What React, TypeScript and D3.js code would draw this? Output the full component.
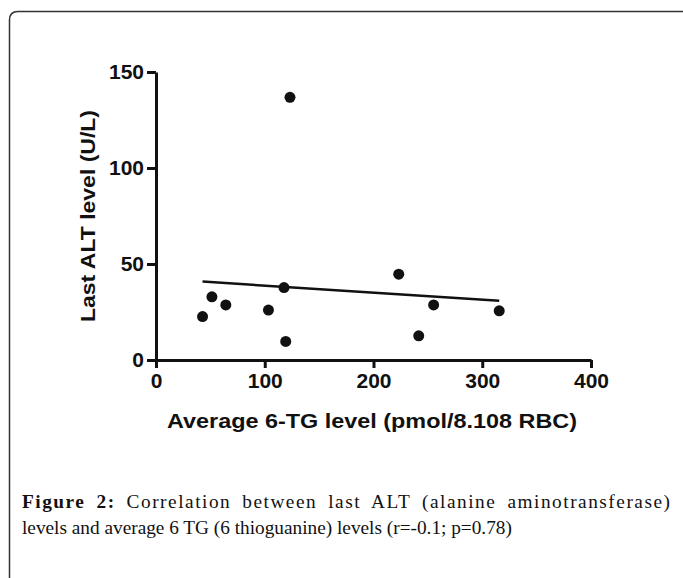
import { useEffect, useRef } from "react";
import * as d3 from "d3";

// Average 6-TG level (pmol/8x10^8 RBC) vs last ALT (U/L), one entry per patient
const tgLevel = [42.8, 51.4, 64.2, 103.4, 117.7, 119.3, 123.2, 223.2, 241.6, 255.3, 315.6];
const altLevel = [22.6, 32.9, 28.7, 26.0, 37.7, 9.7, 136.8, 44.7, 12.6, 28.7, 25.6];

const xTicks = [0, 100, 200, 300, 400];
const yTicks = [0, 50, 100, 150];

const xTitle = "Average 6-TG level (pmol/8.108 RBC)";
const yTitle = "Last ALT level (U/L)";
const captionBold = "Figure 2:";
const captionRest = " Correlation between last ALT (alanine aminotransferase)";
const captionLine2 = "levels and average 6 TG (6 thioguanine) levels (r=-0.1; p=0.78)";

const W = 683;
const H = 578;
const SANS = "'Liberation Sans', Arial, Helvetica, sans-serif";
const SERIF = "'Liberation Serif', 'Times New Roman', serif";
const INK = "#111";

export default function App() {
    const svgRef = useRef<SVGSVGElement | null>(null);

    useEffect(() => {
        if (!svgRef.current) return;
        const svg = d3.select(svgRef.current);
        svg.selectAll("*").remove();

        // frame round the figure (bottom and right run off the page)
        svg.append("path")
            .attr("d", "M9.5,600 V20 Q9.5,11.5 18,11.5 H700")
            .attr("fill", "none")
            .attr("stroke", "#333")
            .attr("stroke-width", 1.5);

        const x = d3.scaleLinear().domain([0, 400]).range([156, 591]);
        const y = d3.scaleLinear().domain([0, 150]).range([360, 72]);

        const styleAxis = (g: d3.Selection<SVGGElement, unknown, null, undefined>) => {
            g.attr("font-family", SANS).attr("font-size", 21).attr("font-weight", "bold");
            g.select(".domain").attr("stroke", INK).attr("stroke-width", 3);
            g.selectAll(".tick line").attr("stroke", INK).attr("stroke-width", 3);
            g.selectAll(".tick text").attr("fill", INK);
        };

        svg.append("g")
            .attr("transform", `translate(0,${y(0)})`)
            .call(d3.axisBottom(x).tickValues(xTicks).tickSize(8).tickSizeOuter(0).tickPadding(5).tickFormat(d3.format("d")))
            .call(styleAxis);

        svg.append("g")
            .attr("transform", `translate(${x(0)},0)`)
            .call(d3.axisLeft(y).tickValues(yTicks).tickSize(9).tickSizeOuter(0).tickPadding(3).tickFormat(d3.format("d")))
            .call(styleAxis);

        // axis titles
        svg.append("text")
            .attr("x", 167)
            .attr("y", 428)
            .attr("font-family", SANS)
            .attr("font-size", 20)
            .attr("font-weight", "bold")
            .attr("fill", INK)
            .attr("textLength", 410)
            .attr("lengthAdjust", "spacingAndGlyphs")
            .text(xTitle);

        svg.append("text")
            .attr("transform", "translate(95,322) rotate(-90)")
            .attr("font-family", SANS)
            .attr("font-size", 20)
            .attr("font-weight", "bold")
            .attr("fill", INK)
            .attr("textLength", 212)
            .attr("lengthAdjust", "spacingAndGlyphs")
            .text(yTitle);

        // least squares fit line over the range of the data
        const mx = d3.mean(tgLevel) as number;
        const my = d3.mean(altLevel) as number;
        const sxy = d3.sum(tgLevel, (v, i) => (v - mx) * (altLevel[i] - my));
        const sxx = d3.sum(tgLevel, v => (v - mx) * (v - mx));
        const slope = sxy / sxx;
        const fit = (v: number) => my + slope * (v - mx);
        const [x0, x1] = d3.extent(tgLevel) as [number, number];

        svg.append("path")
            .datum([x0, x1])
            .attr("fill", "none")
            .attr("stroke", INK)
            .attr("stroke-width", 2.5)
            .attr("d", d3.line<number>().x(d => x(d)).y(d => y(fit(d))));

        svg.selectAll("circle.pt")
            .data(tgLevel)
            .enter()
            .append("circle")
            .attr("class", "pt")
            .attr("cx", d => x(d))
            .attr("cy", (_, i) => y(altLevel[i]))
            .attr("r", 5.5)
            .attr("fill", INK);

        // caption, first line justified to the frame width
        const line1 = svg.append("text")
            .attr("x", 22)
            .attr("y", 508)
            .attr("font-family", SERIF)
            .attr("font-size", 19.3)
            .attr("fill", "#111");
        line1.append("tspan").attr("font-weight", "bold").text(captionBold);
        line1.append("tspan").text(captionRest);
        const full = captionBold + captionRest;
        const natural = (line1.node() as SVGTextElement).getComputedTextLength();
        const extra = Math.max(0, 670 - 22 - natural);
        const spaces = full.split(" ").length - 1;
        line1
            .attr("letter-spacing", (extra * 0.75) / (full.length - 1))
            .attr("word-spacing", (extra * 0.25) / spaces);

        svg.append("text")
            .attr("x", 22)
            .attr("y", 534)
            .attr("font-family", SERIF)
            .attr("font-size", 19.3)
            .attr("fill", "#111")
            .text(captionLine2);
    }, []);

    return (
        <svg
            ref={svgRef}
            width={W}
            height={H}
            viewBox={`0 0 ${W} ${H}`}
            style={{ position: "absolute", left: 0, top: 0, background: "#fff" }}
        />
    );
}
